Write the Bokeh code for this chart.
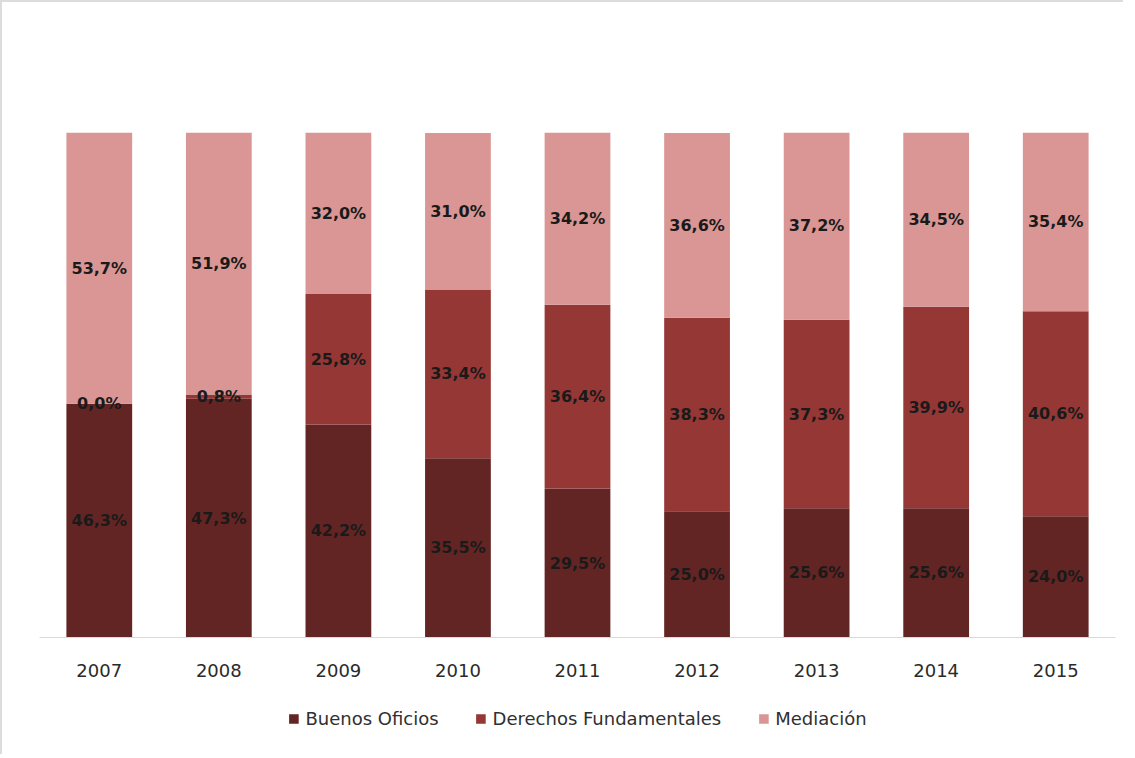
from bokeh.plotting import figure
from bokeh.models import ColumnDataSource, Legend, LegendItem, FactorRange
from bokeh.layouts import column
from bokeh.core.properties import value
from bokeh.embed import file_html
from bokeh.resources import INLINE

years = ["2007", "2008", "2009", "2010", "2011", "2012", "2013", "2014", "2015"]
buenos_oficios = [46.3, 47.3, 42.2, 35.5, 29.5, 25.0, 25.6, 25.6, 24.0]
derechos_fundamentales = [0.0, 0.8, 25.8, 33.4, 36.4, 38.3, 37.3, 39.9, 40.6]
mediacion = [53.7, 51.9, 32.0, 31.0, 34.2, 36.6, 37.2, 34.5, 35.4]

series_names = ["Buenos Oficios", "Derechos Fundamentales", "Mediación"]
series_keys = ["bo", "df", "me"]
colors = ["#632523", "#953735", "#D99694"]

src = ColumnDataSource(dict(years=years, bo=buenos_oficios, df=derechos_fundamentales, me=mediacion))

xr = FactorRange(*years)
p = figure(x_range=xr, y_range=(0, 100),
           frame_width=1076, frame_height=505,
           output_backend="svg", toolbar_location=None,
           min_border_left=37, min_border_right=8, min_border_top=130, min_border_bottom=45)

renderers = p.vbar_stack(series_keys, x="years", width=0.55, color=colors, source=src, line_color=None)

lx, ly, lt = [], [], []
for i, y in enumerate(years):
    base = 0.0
    for vals in (buenos_oficios, derechos_fundamentales, mediacion):
        v = vals[i]
        lx.append(y)
        ly.append(base + v / 2.0)
        lt.append(f"{v:.1f}".replace(".", ",") + "%")
        base += v
lsrc = ColumnDataSource(dict(x=lx, y=ly, t=lt))
p.text(x="x", y="y", text="t", source=lsrc, text_align="center", text_baseline="middle",
       text_font=value("DejaVu Sans"), text_font_style="bold", text_font_size="16px",
       text_color="#1a1a1a")

p.yaxis.visible = False
p.xgrid.grid_line_color = None
p.ygrid.grid_line_color = None
p.outline_line_color = None
p.xaxis.axis_line_color = "#d9d9d9"
p.xaxis.major_tick_line_color = None
p.xaxis.minor_tick_line_color = None
p.xaxis.major_label_standoff = 20
p.xaxis.major_label_text_font = "DejaVu Sans"
p.xaxis.major_label_text_font_size = "18px"
p.xaxis.major_label_text_color = "#2a2a2a"

# legend strip below the chart
p2 = figure(x_range=xr, y_range=(1000, 1001), width=1121, height=72,
            output_backend="svg", toolbar_location=None,
            min_border_left=0, min_border_right=0, min_border_top=0, min_border_bottom=0)
r2 = p2.vbar_stack(series_keys, x="years", width=0.55, color=colors, source=src, line_color=None)
p2.xaxis.visible = False
p2.yaxis.visible = False
p2.xgrid.grid_line_color = None
p2.ygrid.grid_line_color = None
p2.outline_line_color = None

legend = Legend(items=[LegendItem(label=n, renderers=[r]) for n, r in zip(series_names, r2)],
                orientation="horizontal", location=(0, 0))
legend.location = "center"
legend.border_line_color = None
legend.background_fill_alpha = 0
legend.label_text_font = "DejaVu Sans"
legend.label_text_font_size = "18px"
legend.label_text_color = "#303030"
legend.glyph_width = 12
legend.glyph_height = 12
legend.label_standoff = 6
legend.spacing = 36
legend.margin = 0
legend.padding = 0
p2.add_layout(legend, "center")

layout = column(p, p2, spacing=0)
layout.styles = {"border-top": "2px solid #dcdcdc", "border-left": "2px solid #dcdcdc"}

open("out.html", "w").write(file_html(layout, INLINE))
